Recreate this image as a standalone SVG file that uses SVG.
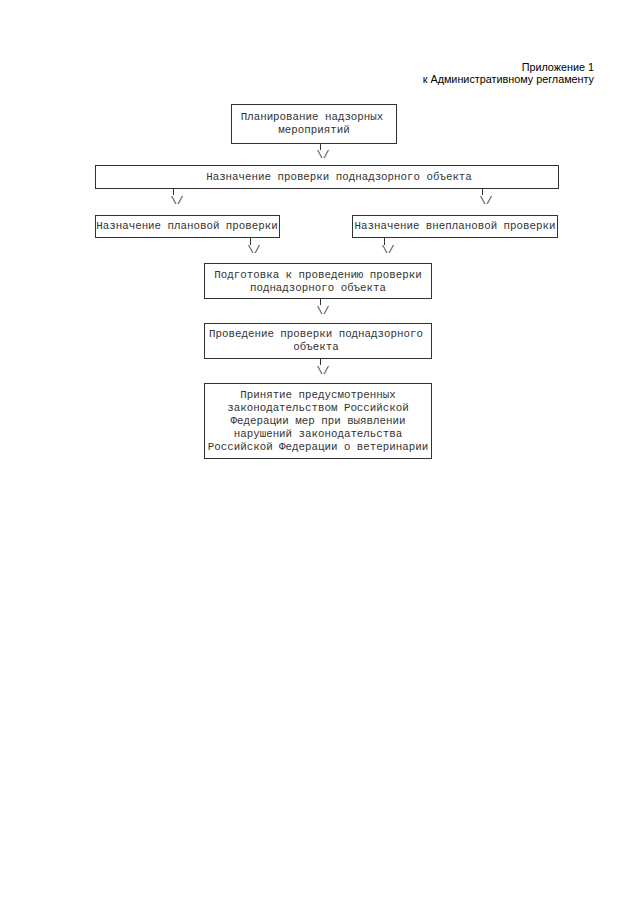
<svg xmlns="http://www.w3.org/2000/svg" width="640" height="905" viewBox="0 0 640 905">
<style>
.b{fill:none;stroke:#333;stroke-width:1}
.t{font-family:"Liberation Mono","DejaVu Sans Mono",monospace;font-size:10.8px;fill:#333;text-anchor:middle}
.h{font-family:"Liberation Sans",Arial,sans-serif;font-size:10.8px;fill:#000;text-anchor:end}
.c{stroke:#333;stroke-width:1;fill:none}
</style>
<rect width="640" height="905" fill="#fff"/>
<g id="header">
<text class="h" x="594" y="71">Приложение 1</text>
<text class="h" x="594" y="83">к Административному регламенту</text>
</g>
<g id="n1"><rect class="b" x="231.5" y="104.5" width="165" height="39"/>
<text class="t" x="312" y="120">Планирование надзорных</text>
<text class="t" x="314" y="133">мероприятий</text></g>
<g id="n2"><rect class="b" x="95.5" y="165.5" width="463" height="23"/>
<text class="t" x="339" y="180">Назначение проверки поднадзорного объекта</text></g>
<g id="n3"><rect class="b" x="95.5" y="215.5" width="184" height="22"/>
<text class="t" x="187" y="229">Назначение плановой проверки</text></g>
<g id="n4"><rect class="b" x="352.5" y="215.5" width="205" height="22"/>
<text class="t" x="455" y="229">Назначение внеплановой проверки</text></g>
<g id="n5"><rect class="b" x="204.5" y="263.5" width="227" height="35"/>
<text class="t" x="318" y="278">Подготовка к проведению проверки</text>
<text class="t" x="318" y="291">поднадзорного объекта</text></g>
<g id="n6"><rect class="b" x="204.5" y="323.5" width="227" height="35"/>
<text class="t" x="316" y="337">Проведение проверки поднадзорного</text>
<text class="t" x="316" y="350">объекта</text></g>
<g id="n7"><rect class="b" x="204.5" y="383.5" width="227" height="75"/>
<text class="t" x="318" y="398">Принятие предусмотренных</text>
<text class="t" x="318" y="411">законодательством Российской</text>
<text class="t" x="318" y="424">Федерации мер при выявлении</text>
<text class="t" x="318" y="437">нарушений законодательства</text>
<text class="t" x="318" y="450">Российской Федерации о ветеринарии</text></g>
<g id="connectors">
<line class="c" x1="320.5" y1="144" x2="320.5" y2="150"/>
<text class="t" x="323" y="158">\/</text>
<line class="c" x1="173.5" y1="189" x2="173.5" y2="195"/>
<text class="t" x="177" y="204">\/</text>
<line class="c" x1="482.5" y1="189" x2="482.5" y2="195"/>
<text class="t" x="486" y="204">\/</text>
<line class="c" x1="250.5" y1="238" x2="250.5" y2="245"/>
<text class="t" x="254" y="253">\/</text>
<line class="c" x1="384.5" y1="238" x2="384.5" y2="245"/>
<text class="t" x="388" y="253">\/</text>
<line class="c" x1="320.5" y1="299" x2="320.5" y2="305"/>
<text class="t" x="323" y="314">\/</text>
<line class="c" x1="320.5" y1="359" x2="320.5" y2="365"/>
<text class="t" x="323" y="374">\/</text>
</g>
</svg>
